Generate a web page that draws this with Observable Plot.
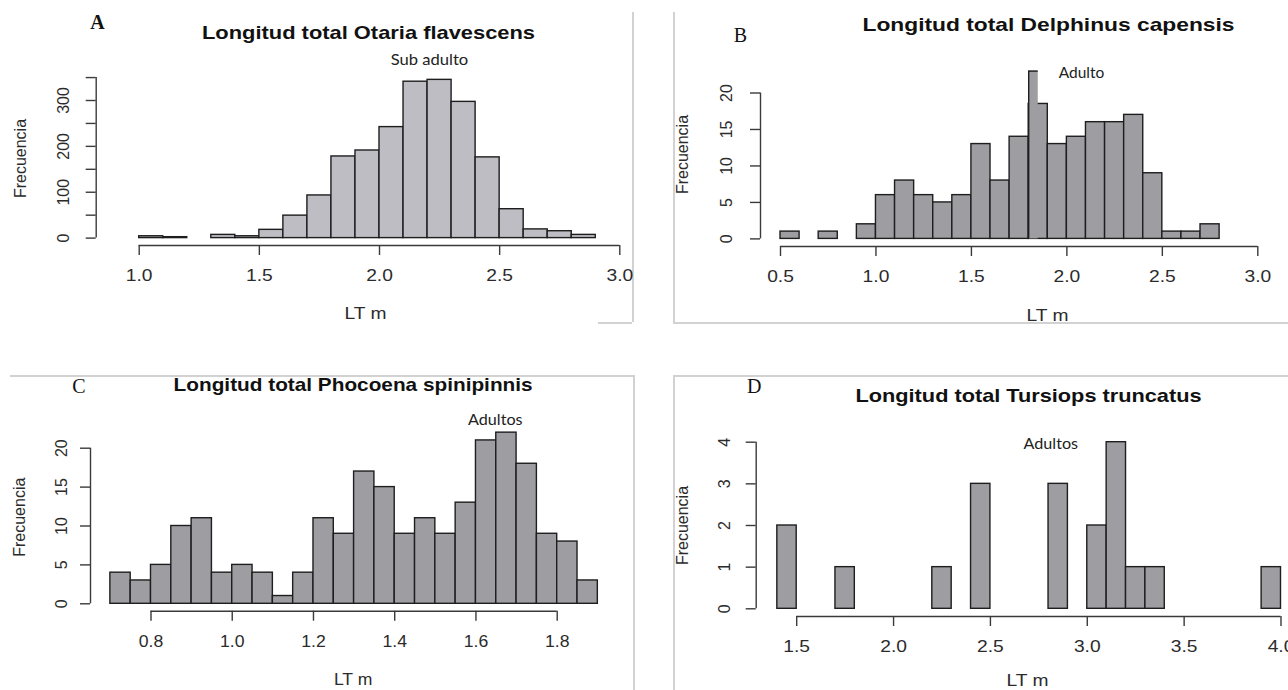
<!DOCTYPE html>
<html>
<head>
<meta charset="utf-8">
<script src="https://cdn.jsdelivr.net/npm/d3@7"></script>
<script src="https://cdn.jsdelivr.net/npm/@observablehq/plot@0.6"></script>
<style>
  body { margin: 0; background: #fff; }
  #fig { position: relative; width: 1288px; height: 690px; overflow: hidden; background: #fff; }
  .panel { position: absolute; }
  .panel svg { overflow: visible; }
  .bd { position: absolute; background: #d2d2d2; }
</style>
</head>
<body>
<div id="fig"></div>
<script>
// ---------- DATA ----------
// A: Otaria flavescens (bin lower edges, width 0.1)
const binsA   = [0.9, 1.0, 1.1, 1.2, 1.3, 1.4, 1.5, 1.6, 1.7, 1.8, 1.9, 2.0, 2.1, 2.2, 2.3, 2.4, 2.5, 2.6, 2.7, 2.8, 2.9];
const countsA = [0,   4,   2,   0,   7,   4,   18,  49,  93,  178, 191, 242, 341, 345, 297, 176, 63,  19,  15,  7,   0];
const xTicksA = [1.0, 1.5, 2.0, 2.5, 3.0];
const yTicksA = [0, 50, 100, 150, 200, 250, 300, 350];
const yLabelsA = [0, 100, 200, 300];

// B: Delphinus capensis (width 0.1)
const binsB   = [0.5, 0.6, 0.7, 0.8, 0.9, 1.0, 1.1, 1.2, 1.3, 1.4, 1.5, 1.6, 1.7, 1.8, 1.9, 2.0, 2.1, 2.2, 2.3, 2.4, 2.5, 2.6, 2.7, 2.8, 2.9, 3.0, 3.1];
const countsB = [1,   0,   1,   0,   2,   6,   8,   6,   5,   6,   13,  8,   14,  18.5, 13, 14,  16,  16,  17,  9,   1,   1,   2,   0,   0,   0,   0];
// narrow overlaid strip in the 1.80 bin
const stripB  = [{x1: 1.80, x2: 1.85, n: 23}];
const xTicksB = [0.5, 1.0, 1.5, 2.0, 2.5, 3.0];
const yTicksB = [0, 5, 10, 15, 20];

// C: Phocoena spinipinnis (width 0.05)
const binsC   = [0.70, 0.75, 0.80, 0.85, 0.90, 0.95, 1.00, 1.05, 1.10, 1.15, 1.20, 1.25, 1.30, 1.35, 1.40, 1.45, 1.50, 1.55, 1.60, 1.65, 1.70, 1.75, 1.80, 1.85];
const countsC = [4,    3,    5,    10,   11,   4,    5,    4,    1,    4,    11,   9,    17,   15,   9,    11,   9,    13,   21,   22,   18,   9,    8,    3];
const xTicksC = [0.8, 1.0, 1.2, 1.4, 1.6, 1.8];
const yTicksC = [0, 5, 10, 15, 20];

// D: Tursiops truncatus (width 0.1)
const binsD   = [1.4, 1.5, 1.6, 1.7, 1.8, 1.9, 2.0, 2.1, 2.2, 2.3, 2.4, 2.5, 2.6, 2.7, 2.8, 2.9, 3.0, 3.1, 3.2, 3.3, 3.4, 3.5, 3.6, 3.7, 3.8, 3.9];
const countsD = [2,   0,   0,   1,   0,   0,   0,   0,   1,   0,   3,   0,   0,   0,   3,   0,   2,   4,   1,   1,   0,   0,   0,   0,   0,   1];
const xTicksD = [1.5, 2.0, 2.5, 3.0, 3.5, 4.0];
const yTicksD = [0, 1, 2, 3, 4];

const letters  = ["A", "B", "C", "D"];
const titles   = ["Longitud total Otaria flavescens", "Longitud total Delphinus capensis",
                  "Longitud total Phocoena spinipinnis", "Longitud total Tursiops truncatus"];
const notes    = ["Sub adulto", "Adulto", "Adultos", "Adultos"];
const xLabel   = "LT m";
const yLabel   = "Frecuencia";

// ---------- LAYOUT ----------
const fig = document.getElementById("fig");
const SANS = "Liberation Sans, Arial, sans-serif";
const NOTE = "Lato, Open Sans, sans-serif";
const SERIF = "Liberation Serif, Times New Roman, serif";

const panels = [
  { bins: binsA, counts: countsA, bw: 0.1, xTicks: xTicksA, yTicks: yTicksA, yLabels: yLabelsA, fill: "#bdbdc3",
    box: {left: 0, top: 0, w: 645, h: 335},
    xa: [1.0, 138.7, 3.0, 619.3], ya: [0, 237.6, 300, 100],
    frame: {l: 95.7, r: 639.5, t: 73.5, b: 245},
    xLabY: 275, yLabX: 63, stretch: 1.2, titleW: 333, noteW: 77.5,
    letter: {x: 97, y: 22, w: "bold"}, title: {x: 368, y: 33}, note: {x: 429, y: 60},
    xt: {x: 365, y: 313}, yt: {x: 20.6, y: 158} },
  { bins: binsB, counts: countsB, bw: 0.1, xTicks: xTicksB, yTicks: yTicksB, yLabels: yTicksB, fill: "#9e9da2",
    box: {left: 645, top: 0, w: 643, h: 335},
    xa: [0.5, 780, 3.0, 1257.3], ya: [0, 238.4, 20, 92.5],
    frame: {l: 760, r: 1288, t: 64, b: 246},
    xLabY: 276, yLabX: 726.8, strip: stripB, stretch: 1.2, titleW: 372, noteW: 45.5,
    letter: {x: 740, y: 35, w: "normal"}, title: {x: 1048, y: 25}, note: {x: 1081, y: 73},
    xt: {x: 1047, y: 315}, yt: {x: 682.6, y: 154} },
  { bins: binsC, counts: countsC, bw: 0.05, xTicks: xTicksC, yTicks: yTicksC, yLabels: yTicksC, fill: "#9e9da2",
    box: {left: 0, top: 345, w: 645, h: 345},
    xa: [0.8, 150.5, 1.8, 556.7], ya: [0, 603.3, 20, 447.7],
    frame: {l: 90, r: 617, t: 425, b: 610.7},
    xLabY: 641.7, yLabX: 61, stretch: 1.1, titleW: 359, noteW: 54.4,
    letter: {x: 78.4, y: 386, w: "normal"}, title: {x: 352.6, y: 385}, note: {x: 494.8, y: 419.3},
    xt: {x: 352.6, y: 679.5}, yt: {x: 19.4, y: 516.7} },
  { bins: binsD, counts: countsD, bw: 0.1, xTicks: xTicksD, yTicks: yTicksD, yLabels: yTicksD, fill: "#9e9da2",
    box: {left: 645, top: 345, w: 643, h: 345},
    xa: [1.5, 796.2, 4.0, 1280.5], ya: [0, 608.3, 4, 441.7],
    frame: {l: 755.7, r: 1288, t: 435, b: 616},
    xLabY: 646, yLabX: 724.7, stretch: 1.2, titleW: 346, noteW: 54.5,
    letter: {x: 753.6, y: 386, w: "normal"}, title: {x: 1028, y: 396}, note: {x: 1050.3, y: 443.3},
    xt: {x: 1027, y: 680.5}, yt: {x: 682.6, y: 525} }
];

// decorative panel borders
const borders = [
  {x: 632, y: 12, w: 1.5, h: 310}, {x: 598, y: 322, w: 34, h: 1.5},
  {x: 673, y: 12, w: 1.5, h: 310}, {x: 673, y: 322, w: 615, h: 1.5},
  {x: 10, y: 375, w: 623, h: 1.5}, {x: 633, y: 375, w: 1.5, h: 315},
  {x: 673, y: 375, w: 615, h: 1.5}, {x: 673, y: 375, w: 1.5, h: 315}
];
borders.forEach(b => {
  const d = document.createElement("div");
  d.className = "bd";
  Object.assign(d.style, {left: b.x + "px", top: b.y + "px", width: b.w + "px", height: b.h + "px"});
  fig.appendChild(d);
});

const AX = "#3a3a3a", TXT = "#2b2b2b", TICK = 10;
const mid = {textAnchor: "middle", lineAnchor: "middle"};

panels.forEach((p, i) => {
  const {box, frame} = p;
  const kx = (p.xa[3] - p.xa[1]) / (p.xa[2] - p.xa[0]);
  const ky = (p.ya[3] - p.ya[1]) / (p.ya[2] - p.ya[0]);
  const xmin = p.xa[0] + (frame.l - p.xa[1]) / kx;
  const xmax = p.xa[0] + (frame.r - p.xa[1]) / kx;
  const ymin = p.ya[0] + (frame.b - p.ya[1]) / ky;
  const ymax = p.ya[0] + (frame.t - p.ya[1]) / ky;
  const data = p.bins.map((b, j) => ({x1: b, x2: b + p.bw, n: p.counts[j]}));
  const fmt = d3.format(".1f");
  const at = (pt) => ({dx: pt.x - frame.l, dy: pt.y - frame.t});
  const lastY = p.yTicks[p.yTicks.length - 1];

  const marks = [
    Plot.rect(data, {x1: "x1", x2: "x2", y1: 0, y2: "n", fill: p.fill, stroke: "#1e1e1e", strokeWidth: 1.4, clip: true}),
  ];
  if (p.strip) {
    marks.push(Plot.rect(p.strip, {x1: "x1", x2: "x2", y1: 0, y2: "n", fill: p.fill, insetLeft: 0.8}));
    marks.push(Plot.ruleX(p.strip, {x: "x1", y1: 0, y2: "n", stroke: "#1e1e1e", strokeWidth: 1.4}));
    marks.push(Plot.ruleY(p.strip, {y: "n", x1: "x1", x2: "x2", stroke: "#1e1e1e", strokeWidth: 1.4}));
  }
  marks.push(
    // y axis line and ticks
    Plot.ruleX([xmin], {y1: p.yTicks[0], y2: lastY, stroke: AX, strokeWidth: 1.4}),
    Plot.ruleY(p.yTicks, {y: d => d, x1: xmin - TICK / kx, x2: xmin, stroke: AX, strokeWidth: 1.4}),
    Plot.text(p.yLabels, {y: d => d, frameAnchor: "left", dx: p.yLabX - frame.l, rotate: -90, text: d => String(d),
      ...mid, fontFamily: SANS, fontSize: 16, fill: TXT}),
    // x axis line and ticks
    Plot.ruleY([ymin], {x1: p.xTicks[0], x2: p.xTicks[p.xTicks.length - 1], stroke: AX, strokeWidth: 1.4}),
    Plot.ruleX(p.xTicks, {x: d => d, y1: ymin, y2: ymin + TICK / ky, stroke: AX, strokeWidth: 1.4}),
    Plot.text(p.xTicks, {x: d => d, frameAnchor: "bottom", dy: p.xLabY - frame.b, text: d => fmt(d),
      ...mid, fontFamily: SANS, fontSize: 16, fill: TXT}),
    // titles and labels
    Plot.text([titles[i]], {frameAnchor: "top-left", ...at(p.title), text: d => d, ...mid,
      fontFamily: SANS, fontWeight: "bold", fontSize: 18.5, fill: "#111"}),
    Plot.text([letters[i]], {frameAnchor: "top-left", ...at(p.letter), text: d => d, ...mid,
      fontFamily: SERIF, fontWeight: p.letter.w, fontSize: 20, fill: "#111"}),
    Plot.text([notes[i]], {frameAnchor: "top-left", ...at(p.note), text: d => d, ...mid,
      fontFamily: NOTE, fontSize: 15, fill: "#222"}),
    Plot.text([xLabel], {frameAnchor: "top-left", ...at(p.xt), text: d => d, ...mid,
      fontFamily: SANS, fontSize: 16, fill: TXT}),
    Plot.text([yLabel], {frameAnchor: "top-left", ...at(p.yt), text: d => d, rotate: -90, ...mid,
      fontFamily: SANS, fontSize: 16, fill: TXT})
  );

  const chart = Plot.plot({
    width: box.w, height: box.h,
    marginLeft: frame.l - box.left, marginRight: box.left + box.w - frame.r,
    marginTop: frame.t - box.top, marginBottom: box.top + box.h - frame.b,
    x: {domain: [xmin, xmax], axis: null},
    y: {domain: [ymin, ymax], axis: null},
    style: {background: "transparent", overflow: "visible"},
    marks
  });
  const wrap = document.createElement("div");
  wrap.className = "panel";
  wrap.style.left = box.left + "px";
  wrap.style.top = box.top + "px";
  wrap.appendChild(chart);
  fig.appendChild(wrap);

  // the reference image is slightly stretched horizontally: widen horizontal texts to match
  chart.querySelectorAll("text").forEach(t => {
    const s = t.textContent;
    const tr = (t.getAttribute("transform") || "") + (t.parentNode.getAttribute("transform") || "");
    let target = null;
    if (s === titles[i]) target = p.titleW;
    else if (s === notes[i]) target = p.noteW;
    else if (letters.includes(s) || /rotate/.test(tr)) return;
    else target = t.getComputedTextLength() * p.stretch;
    t.setAttribute("textLength", target);
    t.setAttribute("lengthAdjust", "spacingAndGlyphs");
  });
});
</script>
</body>
</html>
